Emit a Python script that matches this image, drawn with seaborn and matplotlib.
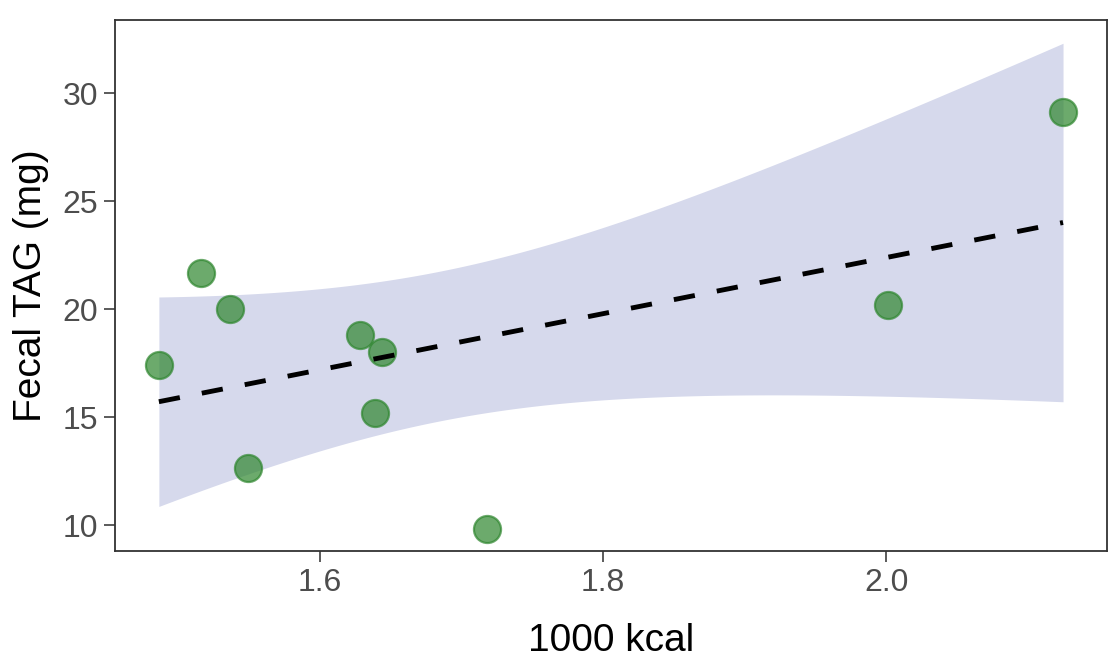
import numpy as np
import pandas as pd
import seaborn as sns
import matplotlib.pyplot as plt

# values
kcal = [1.486, 1.516, 1.536, 1.549, 1.628, 1.644, 1.639, 1.718, 2.001, 2.125]
fecal_tag = [17.41, 21.67, 20.00, 12.64, 18.80, 18.01, 15.19, 9.81, 20.19, 29.12]
x_ticks = [1.6, 1.8, 2.0]
y_ticks = [10, 15, 20, 25, 30]

df = pd.DataFrame({"kcal": kcal, "tag": fecal_tag})

# linear fit with a 95% t-based confidence band (like lm smoothing)
x = df["kcal"].to_numpy()
y = df["tag"].to_numpy()
n = len(x)
slope, intercept = np.polyfit(x, y, 1)
resid = y - (intercept + slope * x)
s = np.sqrt(np.sum(resid ** 2) / (n - 2))
grid = np.linspace(x.min(), x.max(), 200)
fit = intercept + slope * grid
se = s * np.sqrt(1 / n + (grid - x.mean()) ** 2 / np.sum((x - x.mean()) ** 2))
t_crit = 2.306  # t(0.975, df=8)

sns.set_theme(style="ticks")
plt.rcParams['font.family'] = ['Liberation Sans', 'DejaVu Sans']

fig, ax = plt.subplots(figsize=(11.08, 6.58), dpi=100)
fig.subplots_adjust(left=0.1038, right=0.999, top=0.9696, bottom=0.1626)

ax.fill_between(grid, fit - t_crit * se, fit + t_crit * se, color="#d6d9ec",
                linewidth=0, zorder=1)

sns.scatterplot(data=df, x="kcal", y="tag", ax=ax, s=380, color="#2e862e",
                alpha=0.7, edgecolor="#2e862e", linewidth=1.6, zorder=2)

sns.regplot(data=df, x="kcal", y="tag", ax=ax, scatter=False, ci=None,
            color="black",
            line_kws={"linestyle": (0, (4.4, 4.6)), "linewidth": 3.5, "zorder": 3})

ax.set_xlim(1.455, 2.156)
ax.set_ylim(8.8, 33.38)
ax.set_xticks(x_ticks)
ax.set_yticks(y_ticks)
ax.set_xticklabels([f"{t:.1f}" for t in x_ticks])
ax.set_xlabel("1000 kcal", fontsize=28, color="black", labelpad=18)
ax.set_ylabel("Fecal TAG (mg)", fontsize=28, color="black", labelpad=10)
ax.tick_params(labelsize=23, colors="#4d4d4d", length=8, width=1.3, pad=4)
for sp in ax.spines.values():
    sp.set_visible(True)
    sp.set_color("#333333")
    sp.set_linewidth(1.3)

fig.savefig("out.png", dpi=100)
